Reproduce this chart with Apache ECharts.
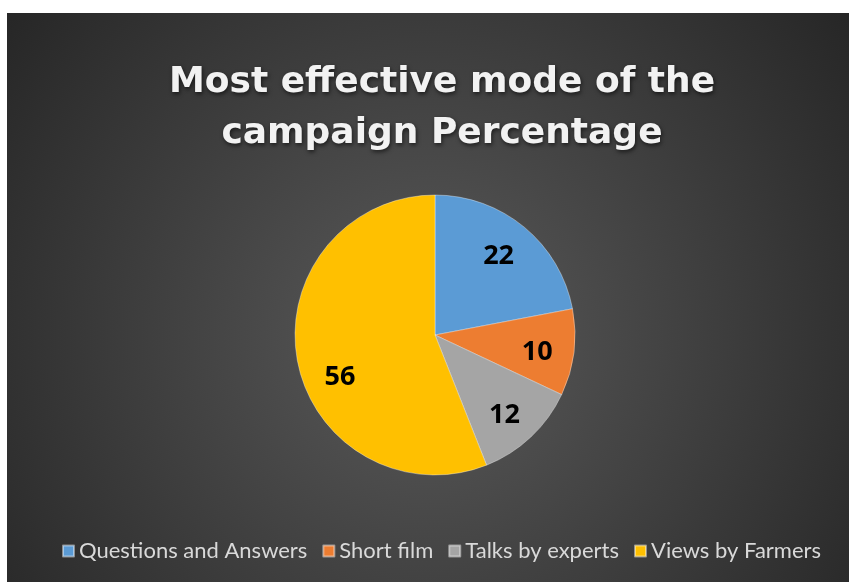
<!DOCTYPE html>
<html>
<head>
<meta charset="utf-8">
<script src="https://cdn.jsdelivr.net/npm/echarts@6/dist/echarts.min.js"></script>
<style>
  html, body { margin: 0; padding: 0; background: #ffffff; }
  #chart { position: absolute; left: 7px; top: 13px; width: 842px; height: 569px; }
</style>
</head>
<body>
<div id="chart"></div>
<script>
// Campaign mode shares (percent)
const categories = ['Questions and Answers', 'Short film', 'Talks by experts', 'Views by Farmers'];
const values = [22, 10, 12, 56];
const colors = ['#5b9bd5', '#ed7d31', '#a5a5a5', '#ffc000'];

// label nudges for readability inside the slices
const labelOffsets = [[-4, 3], [-3, 4], [-3, 3], [9, 22]];

const sliceData = categories.map((name, i) => ({ name, value: values[i] }));
const labelData = categories.map((name, i) => ({
  name, value: values[i], label: { offset: labelOffsets[i] }
}));

const chart = echarts.init(document.getElementById('chart'));
chart.setOption({
  backgroundColor: {
    type: 'radial', x: 0.5, y: 0.57, r: 0.94,
    colorStops: [
      { offset: 0, color: '#5a5a5a' },
      { offset: 1, color: '#262626' }
    ]
  },
  color: colors,
  title: {
    text: 'Most effective mode of the\ncampaign Percentage',
    left: 430,
    top: 39,
    textAlign: 'center',
    textStyle: {
      fontFamily: 'DejaVu Sans',
      fontWeight: 'bold',
      fontSize: 36,
      lineHeight: 51,
      color: '#f2f2f2',
      textShadowColor: 'rgba(0,0,0,0.6)',
      textShadowBlur: 4,
      textShadowOffsetX: 1,
      textShadowOffsetY: 2
    }
  },
  legend: {
    data: categories,
    top: 522,
    left: 50,
    icon: 'rect',
    itemWidth: 11,
    itemHeight: 11,
    itemGap: 15,
    textStyle: { fontFamily: 'Lato', fontSize: 22, color: '#d9d9d9' }
  },
  series: [
    {
      type: 'pie',
      center: [428, 322],
      radius: [0, 140],
      startAngle: 90,
      clockwise: true,
      silent: true,
      data: sliceData,
      itemStyle: { borderColor: 'rgba(255,255,255,0.45)', borderWidth: 0.8 },
      label: { show: false },
      labelLine: { show: false }
    },
    {
      // transparent ring used only to place the value labels further out
      type: 'pie',
      center: [428, 322],
      radius: [66, 140],
      startAngle: 90,
      clockwise: true,
      silent: true,
      legendHoverLink: false,
      data: labelData,
      itemStyle: { color: 'rgba(0,0,0,0)', borderWidth: 0 },
      label: {
        show: true,
        position: 'inside',
        formatter: '{c}',
        fontFamily: 'Open Sans',
        fontWeight: 'bold',
        fontSize: 27,
        color: '#000000'
      },
      labelLine: { show: false }
    }
  ]
});
</script>
</body>
</html>
